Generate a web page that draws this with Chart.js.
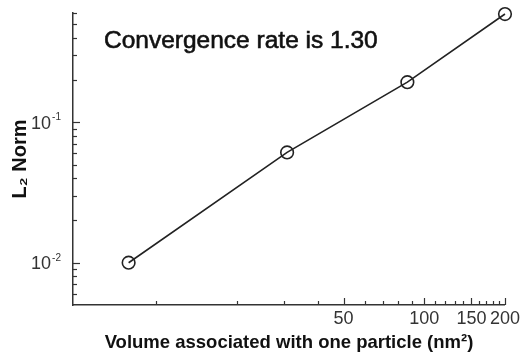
<!DOCTYPE html>
<html>
<head>
<meta charset="utf-8">
<script src="https://cdn.jsdelivr.net/npm/chart.js@4/dist/chart.umd.min.js"></script>
<style>
  html, body { margin: 0; padding: 0; background: #fff; }
</style>
</head>
<body>
<canvas id="normChart" width="523" height="356"></canvas>
<script>
// ── DATA ──────────────────────────────────────────
const volumes  = [7.9, 30.8, 86.5, 200];     // nm^2
const l2Norm   = [0.010, 0.061, 0.193, 0.59];

const xTickValues  = [50, 100, 150, 200];
const xMinorTicks  = [10, 20, 30, 40, 60, 70, 80, 90, 110, 120, 130, 140, 160, 170, 180, 190];
const yTickValues  = [0.01, 0.1];
const yTickExps    = ['-2', '-1'];
const yMinorTicks  = [0.006, 0.007, 0.008, 0.009,
                      0.02, 0.03, 0.04, 0.05, 0.06, 0.07, 0.08, 0.09,
                      0.2, 0.3, 0.4, 0.5, 0.6];

const annotation = 'Convergence rate is 1.30';

const FONT = "'Liberation Sans', Arial, Helvetica, sans-serif";
const INK  = '#222';

// ── DECORATIONS: inward ticks, y labels, note ─────
const decorPlugin = {
  id: 'decor',
  afterDraw(chart) {
    const { ctx, chartArea: area, scales: { x, y } } = chart;
    ctx.save();
    ctx.strokeStyle = '#333';
    ctx.lineWidth = 1.2;

    const xTick = (v, len) => {
      const px = Math.round(x.getPixelForValue(v)) + 0.5;
      ctx.beginPath();
      ctx.moveTo(px, area.bottom);
      ctx.lineTo(px, area.bottom - len);
      ctx.stroke();
    };
    const yTick = (v, len) => {
      const py = Math.round(y.getPixelForValue(v)) + 0.5;
      ctx.beginPath();
      ctx.moveTo(area.left, py);
      ctx.lineTo(area.left + len, py);
      ctx.stroke();
    };
    xTickValues.forEach(v => xTick(v, 7));
    xMinorTicks.forEach(v => xTick(v, 4));
    yTickValues.forEach(v => yTick(v, 7));
    yMinorTicks.forEach(v => yTick(v, 4));

    // y tick labels with superscript exponent
    ctx.fillStyle = '#333';
    yTickValues.forEach((v, i) => {
      const py = y.getPixelForValue(v);
      ctx.font = `10px ${FONT}`;
      ctx.textAlign = 'right';
      ctx.textBaseline = 'alphabetic';
      const expW = ctx.measureText(yTickExps[i]).width;
      ctx.fillText(yTickExps[i], area.left - 12, py - 2);
      ctx.font = `18px ${FONT}`;
      ctx.fillText('10', area.left - 12 - expW - 1, py + 6.5);
    });

    // annotation (slightly heavier than regular, as in the source)
    ctx.fillStyle = '#111';
    ctx.strokeStyle = '#111';
    ctx.lineWidth = 0.6;
    ctx.font = `24.5px ${FONT}`;
    ctx.textAlign = 'left';
    ctx.fillText(annotation, area.left + 31, area.top + 35);
    ctx.strokeText(annotation, area.left + 31, area.top + 35);
    ctx.restore();
  },
};

// ── CHART ─────────────────────────────────────────
new Chart(document.getElementById('normChart').getContext('2d'), {
  type: 'line',
  data: {
    datasets: [{
      label: 'L2 Norm',
      data: volumes.map((v, i) => ({ x: v, y: l2Norm[i] })),
      borderColor: INK,
      borderWidth: 1.6,
      pointStyle: 'circle',
      pointRadius: 6.3,
      pointBorderWidth: 1.6,
      pointBorderColor: INK,
      pointBackgroundColor: 'rgba(0,0,0,0)',
      tension: 0,
      clip: false,
    }],
  },
  options: {
    responsive: false,
    animation: false,
    layout: { padding: { top: 13, right: 18, left: 0, bottom: 0 } },
    plugins: {
      legend: { display: false },
      tooltip: { enabled: false },
    },
    scales: {
      x: {
        type: 'logarithmic',
        min: 4.9,
        max: 200,
        grid: { display: false, drawTicks: false },
        border: { display: true, color: '#333', width: 1.5 },
        afterBuildTicks: s => { s.ticks = xTickValues.map(v => ({ value: v })); },
        afterFit: s => { s.height = 51; },
        ticks: {
          autoSkip: false,
          maxRotation: 0,
          padding: 3,
          color: '#333',
          font: { family: FONT, size: 18 },
          callback: v => String(v),
        },
        title: {
          display: true,
          text: 'Volume associated with one particle (nm²)',
          color: '#111',
          font: { family: FONT, size: 18.5, weight: 'bold' },
          padding: { top: 0, bottom: 2 },
        },
      },
      y: {
        type: 'logarithmic',
        min: 0.005,
        max: 0.6,
        grid: { display: false, drawTicks: false },
        border: { display: true, color: '#333', width: 1.5 },
        afterFit: s => { s.width = 73; },
        ticks: { display: false },
        title: {
          display: true,
          text: 'L₂ Norm',
          color: '#111',
          font: { family: FONT, size: 20, weight: 'bold' },
          padding: { top: 8, bottom: 0 },
        },
      },
    },
  },
  plugins: [decorPlugin],
});
</script>
</body>
</html>
